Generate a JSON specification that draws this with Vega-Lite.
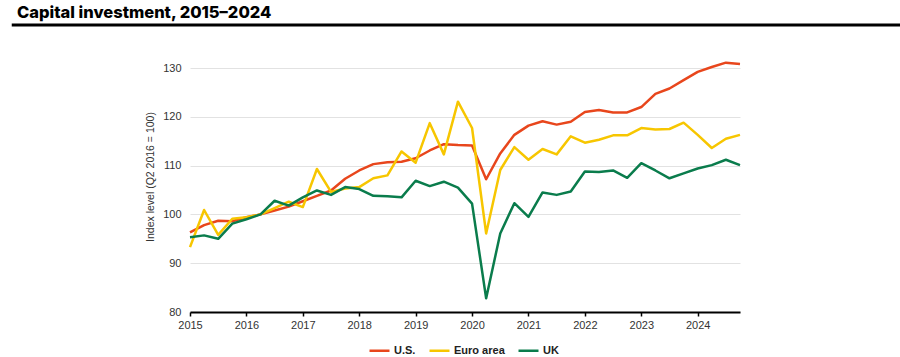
{
  "$schema": "https://vega.github.io/schema/vega-lite/v6.json",
  "width": 550,
  "height": 244,
  "autosize": {"type": "none"},
  "padding": {"left": 190, "top": 68, "right": 160, "bottom": 45},
  "background": "white",
  "config": {
    "view": {"stroke": null},
    "font": "Liberation Sans"
  },
  "title": {
    "text": "Capital investment, 2015–2024",
    "anchor": "start",
    "frame": "group",
    "font": "Inter",
    "fontSize": 16.5,
    "fontWeight": 800,
    "color": "#000000",
    "dx": -173,
    "offset": 0,
    "dy": -2
  },
  "layer": [
    {
      "data": {"values": [{"a": 2011.84, "b": 2027.6, "y": 138.8}]},
      "mark": {"type": "rule", "color": "#000000", "strokeWidth": 3, "clip": false},
      "encoding": {
        "x": {"field": "a", "type": "quantitative"},
        "x2": {"field": "b"},
        "y": {"field": "y", "type": "quantitative"}
      }
    },
    {
      "data": {"values": [
        {"t": 2015.00, "s": "U.S.", "v": 96.3}, {"t": 2015.25, "s": "U.S.", "v": 97.8}, {"t": 2015.50, "s": "U.S.", "v": 98.7}, {"t": 2015.75, "s": "U.S.", "v": 98.6},
        {"t": 2016.00, "s": "U.S.", "v": 99.4}, {"t": 2016.25, "s": "U.S.", "v": 100.0}, {"t": 2016.50, "s": "U.S.", "v": 100.8}, {"t": 2016.75, "s": "U.S.", "v": 101.6},
        {"t": 2017.00, "s": "U.S.", "v": 102.7}, {"t": 2017.25, "s": "U.S.", "v": 103.8}, {"t": 2017.50, "s": "U.S.", "v": 104.9}, {"t": 2017.75, "s": "U.S.", "v": 107.3},
        {"t": 2018.00, "s": "U.S.", "v": 109.0}, {"t": 2018.25, "s": "U.S.", "v": 110.3}, {"t": 2018.50, "s": "U.S.", "v": 110.7}, {"t": 2018.75, "s": "U.S.", "v": 110.8},
        {"t": 2019.00, "s": "U.S.", "v": 111.5}, {"t": 2019.25, "s": "U.S.", "v": 113.1}, {"t": 2019.50, "s": "U.S.", "v": 114.4}, {"t": 2019.75, "s": "U.S.", "v": 114.2},
        {"t": 2020.00, "s": "U.S.", "v": 114.1}, {"t": 2020.25, "s": "U.S.", "v": 107.2}, {"t": 2020.50, "s": "U.S.", "v": 112.5}, {"t": 2020.75, "s": "U.S.", "v": 116.3},
        {"t": 2021.00, "s": "U.S.", "v": 118.2}, {"t": 2021.25, "s": "U.S.", "v": 119.1}, {"t": 2021.50, "s": "U.S.", "v": 118.4}, {"t": 2021.75, "s": "U.S.", "v": 119.0},
        {"t": 2022.00, "s": "U.S.", "v": 121.0}, {"t": 2022.25, "s": "U.S.", "v": 121.4}, {"t": 2022.50, "s": "U.S.", "v": 120.9}, {"t": 2022.75, "s": "U.S.", "v": 120.9},
        {"t": 2023.00, "s": "U.S.", "v": 122.0}, {"t": 2023.25, "s": "U.S.", "v": 124.7}, {"t": 2023.50, "s": "U.S.", "v": 125.8}, {"t": 2023.75, "s": "U.S.", "v": 127.5},
        {"t": 2024.00, "s": "U.S.", "v": 129.2}, {"t": 2024.25, "s": "U.S.", "v": 130.2}, {"t": 2024.50, "s": "U.S.", "v": 131.1}, {"t": 2024.75, "s": "U.S.", "v": 130.8},

        {"t": 2015.00, "s": "Euro area", "v": 93.3}, {"t": 2015.25, "s": "Euro area", "v": 100.9}, {"t": 2015.50, "s": "Euro area", "v": 95.8}, {"t": 2015.75, "s": "Euro area", "v": 99.1},
        {"t": 2016.00, "s": "Euro area", "v": 99.4}, {"t": 2016.25, "s": "Euro area", "v": 100.0}, {"t": 2016.50, "s": "Euro area", "v": 101.3}, {"t": 2016.75, "s": "Euro area", "v": 102.6},
        {"t": 2017.00, "s": "Euro area", "v": 101.5}, {"t": 2017.25, "s": "Euro area", "v": 109.3}, {"t": 2017.50, "s": "Euro area", "v": 104.6}, {"t": 2017.75, "s": "Euro area", "v": 105.3},
        {"t": 2018.00, "s": "Euro area", "v": 105.6}, {"t": 2018.25, "s": "Euro area", "v": 107.4}, {"t": 2018.50, "s": "Euro area", "v": 108.0}, {"t": 2018.75, "s": "Euro area", "v": 112.9},
        {"t": 2019.00, "s": "Euro area", "v": 110.6}, {"t": 2019.25, "s": "Euro area", "v": 118.7}, {"t": 2019.50, "s": "Euro area", "v": 112.3}, {"t": 2019.75, "s": "Euro area", "v": 123.1},
        {"t": 2020.00, "s": "Euro area", "v": 117.7}, {"t": 2020.25, "s": "Euro area", "v": 96.1}, {"t": 2020.50, "s": "Euro area", "v": 109.1}, {"t": 2020.75, "s": "Euro area", "v": 113.8},
        {"t": 2021.00, "s": "Euro area", "v": 111.2}, {"t": 2021.25, "s": "Euro area", "v": 113.4}, {"t": 2021.50, "s": "Euro area", "v": 112.3}, {"t": 2021.75, "s": "Euro area", "v": 116.0},
        {"t": 2022.00, "s": "Euro area", "v": 114.7}, {"t": 2022.25, "s": "Euro area", "v": 115.3}, {"t": 2022.50, "s": "Euro area", "v": 116.2}, {"t": 2022.75, "s": "Euro area", "v": 116.2},
        {"t": 2023.00, "s": "Euro area", "v": 117.7}, {"t": 2023.25, "s": "Euro area", "v": 117.4}, {"t": 2023.50, "s": "Euro area", "v": 117.5}, {"t": 2023.75, "s": "Euro area", "v": 118.8},
        {"t": 2024.00, "s": "Euro area", "v": 116.3}, {"t": 2024.25, "s": "Euro area", "v": 113.6}, {"t": 2024.50, "s": "Euro area", "v": 115.5}, {"t": 2024.75, "s": "Euro area", "v": 116.3},

        {"t": 2015.00, "s": "UK", "v": 95.3}, {"t": 2015.25, "s": "UK", "v": 95.7}, {"t": 2015.50, "s": "UK", "v": 95.0}, {"t": 2015.75, "s": "UK", "v": 98.1},
        {"t": 2016.00, "s": "UK", "v": 99.0}, {"t": 2016.25, "s": "UK", "v": 100.0}, {"t": 2016.50, "s": "UK", "v": 102.8}, {"t": 2016.75, "s": "UK", "v": 101.8},
        {"t": 2017.00, "s": "UK", "v": 103.5}, {"t": 2017.25, "s": "UK", "v": 104.9}, {"t": 2017.50, "s": "UK", "v": 104.0}, {"t": 2017.75, "s": "UK", "v": 105.6},
        {"t": 2018.00, "s": "UK", "v": 105.2}, {"t": 2018.25, "s": "UK", "v": 103.8}, {"t": 2018.50, "s": "UK", "v": 103.7}, {"t": 2018.75, "s": "UK", "v": 103.5},
        {"t": 2019.00, "s": "UK", "v": 106.9}, {"t": 2019.25, "s": "UK", "v": 105.8}, {"t": 2019.50, "s": "UK", "v": 106.7}, {"t": 2019.75, "s": "UK", "v": 105.5},
        {"t": 2020.00, "s": "UK", "v": 102.2}, {"t": 2020.25, "s": "UK", "v": 82.8}, {"t": 2020.50, "s": "UK", "v": 96.1}, {"t": 2020.75, "s": "UK", "v": 102.3},
        {"t": 2021.00, "s": "UK", "v": 99.5}, {"t": 2021.25, "s": "UK", "v": 104.5}, {"t": 2021.50, "s": "UK", "v": 104.0}, {"t": 2021.75, "s": "UK", "v": 104.7},
        {"t": 2022.00, "s": "UK", "v": 108.8}, {"t": 2022.25, "s": "UK", "v": 108.7}, {"t": 2022.50, "s": "UK", "v": 109.0}, {"t": 2022.75, "s": "UK", "v": 107.5},
        {"t": 2023.00, "s": "UK", "v": 110.5}, {"t": 2023.25, "s": "UK", "v": 109.0}, {"t": 2023.50, "s": "UK", "v": 107.4}, {"t": 2023.75, "s": "UK", "v": 108.4},
        {"t": 2024.00, "s": "UK", "v": 109.4}, {"t": 2024.25, "s": "UK", "v": 110.1}, {"t": 2024.50, "s": "UK", "v": 111.2}, {"t": 2024.75, "s": "UK", "v": 110.1}
      ]},
      "mark": {"type": "line", "strokeWidth": 2.5, "strokeJoin": "round"},
      "encoding": {
        "x": {
          "field": "t", "type": "quantitative",
          "scale": {"domain": [2015, 2024.75], "nice": false, "zero": false},
          "axis": {
            "title": null,
            "values": [2015, 2016, 2017, 2018, 2019, 2020, 2021, 2022, 2023, 2024],
            "format": "d",
            "grid": false,
            "domainColor": "#000000",
            "domainWidth": 2,
            "tickColor": "#000000",
            "tickWidth": 1.5,
            "tickSize": 4,
            "labelFont": "Liberation Sans",
            "labelFontSize": 11,
            "labelColor": "#333333",
            "labelPadding": 3,
            "labelFlush": false
          }
        },
        "y": {
          "field": "v", "type": "quantitative",
          "scale": {"domain": [80, 130], "nice": false, "zero": false},
          "axis": {
            "title": "Index level (Q2 2016 = 100)",
            "titleFont": "Liberation Sans",
            "titleFontSize": 10.5,
            "titleFontWeight": "normal",
            "titleColor": "#333333",
            "titleX": -40,
            "titleY": 108.5,
            "titleAngle": -90,
            "titleAlign": "center",
            "titleBaseline": "middle",
            "values": [80, 90, 100, 110, 120, 130],
            "domain": false,
            "ticks": false,
            "grid": true,
            "gridColor": "#e2e2e2",
            "gridWidth": 1,
            "labelFont": "Liberation Sans",
            "labelFontSize": 11,
            "labelColor": "#333333",
            "labelPadding": 9
          }
        },
        "color": {
          "field": "s", "type": "nominal",
          "scale": {"domain": ["U.S.", "Euro area", "UK"], "range": ["#E8461C", "#F7C600", "#0A7C4C"]},
          "legend": {
            "title": null,
            "orient": "none",
            "direction": "horizontal",
            "legendX": 178,
            "legendY": 271,
            "symbolType": "stroke",
            "symbolSize": 400,
            "symbolStrokeWidth": 2.5,
            "labelFont": "Liberation Sans",
            "labelFontSize": 11,
            "labelFontWeight": "bold",
            "labelColor": "#222222",
            "labelOffset": 3,
            "columnPadding": 8
          }
        }
      }
    }
  ]
}
